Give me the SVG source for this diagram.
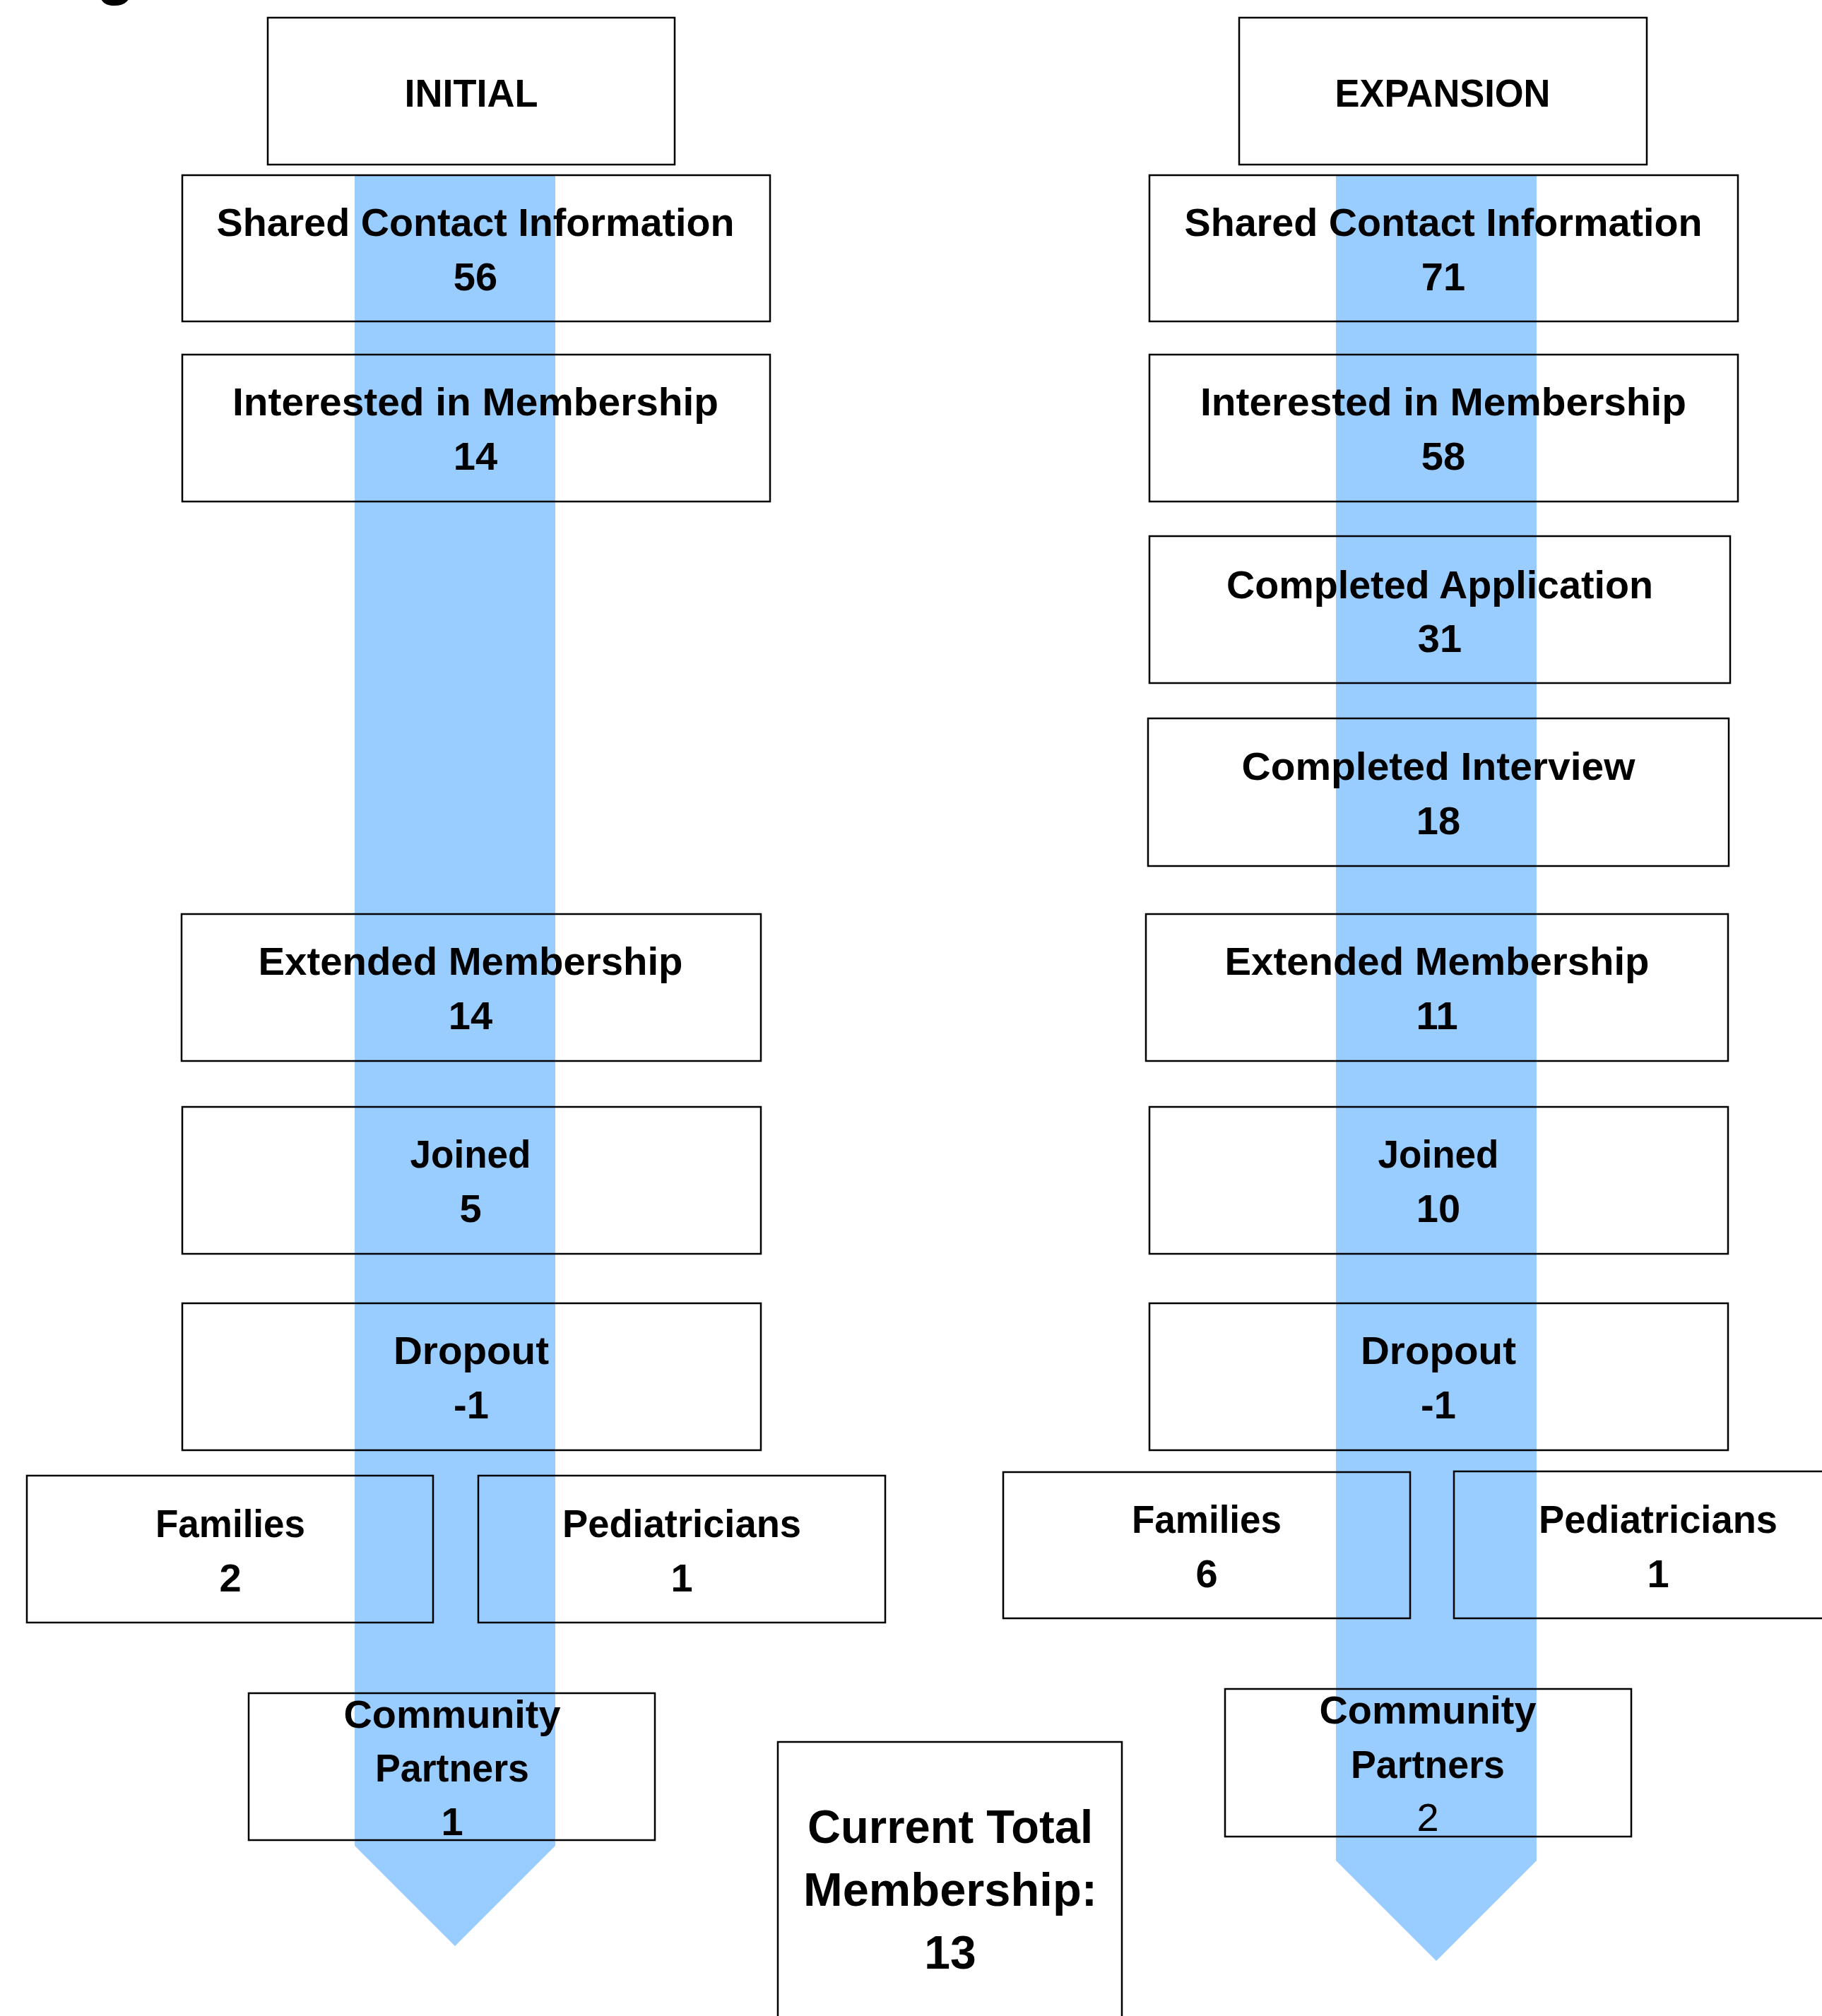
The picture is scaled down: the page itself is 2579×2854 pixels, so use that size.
<svg xmlns="http://www.w3.org/2000/svg" width="2579" height="2854" viewBox="0 0 2579 2854">
<style>
  .box{fill:none;stroke:#000;stroke-width:2.5}
  .t{font-family:"Liberation Sans",Arial,sans-serif;font-weight:bold;font-size:56px;fill:#000;text-anchor:middle}
  .big{font-size:66px}
  .reg{font-weight:normal}
  .flow{fill:#99CCFF}
</style>
<rect x="0" y="0" width="2579" height="2854" fill="#fff"/>
<text class="t" x="136" y="-11" style="text-anchor:start;font-size:90px">g</text>
<g id="connectors">
  <polygon class="flow" points="502,248 786,248 786,2613 644,2755 502,2613"/>
  <polygon class="flow" points="1891,248 2175,248 2175,2634 2033,2776 1891,2634"/>
</g>
<g id="initial">
  <rect class="box" x="379" y="25" width="576" height="208"/>
  <text class="t" x="667" y="151" textLength="189" lengthAdjust="spacingAndGlyphs">INITIAL</text>
</g>
<g id="init-shared">
  <rect class="box" x="258" y="248" width="832" height="207"/>
  <text class="t" x="673" y="334" textLength="733" lengthAdjust="spacingAndGlyphs">Shared Contact Information</text>
  <text class="t" x="673" y="411">56</text>
</g>
<g id="init-interested">
  <rect class="box" x="258" y="502" width="832" height="208"/>
  <text class="t" x="673" y="588" textLength="688" lengthAdjust="spacingAndGlyphs">Interested in Membership</text>
  <text class="t" x="673" y="665">14</text>
</g>
<g id="init-extended">
  <rect class="box" x="257" y="1294" width="820" height="208"/>
  <text class="t" x="666" y="1380" textLength="601" lengthAdjust="spacingAndGlyphs">Extended Membership</text>
  <text class="t" x="666" y="1457">14</text>
</g>
<g id="init-joined">
  <rect class="box" x="258" y="1567" width="819" height="208"/>
  <text class="t" x="666" y="1653" textLength="171" lengthAdjust="spacingAndGlyphs">Joined</text>
  <text class="t" x="666" y="1730">5</text>
</g>
<g id="init-dropout">
  <rect class="box" x="258" y="1845" width="819" height="208"/>
  <text class="t" x="667" y="1931" textLength="220" lengthAdjust="spacingAndGlyphs">Dropout</text>
  <text class="t" x="667" y="2008">-1</text>
</g>
<g id="init-families">
  <rect class="box" x="38" y="2089" width="575" height="208"/>
  <text class="t" x="326" y="2176" textLength="212" lengthAdjust="spacingAndGlyphs">Families</text>
  <text class="t" x="326" y="2253">2</text>
</g>
<g id="init-pediatricians">
  <rect class="box" x="677" y="2089" width="576" height="208"/>
  <text class="t" x="965" y="2176" textLength="338" lengthAdjust="spacingAndGlyphs">Pediatricians</text>
  <text class="t" x="965" y="2253">1</text>
</g>
<g id="init-community">
  <rect class="box" x="352" y="2397" width="575" height="208"/>
  <text class="t" x="640" y="2446" textLength="307" lengthAdjust="spacingAndGlyphs">Community</text>
  <text class="t" x="640" y="2522" textLength="218" lengthAdjust="spacingAndGlyphs">Partners</text>
  <text class="t" x="640" y="2598">1</text>
</g>
<g id="expansion">
  <rect class="box" x="1754" y="25" width="577" height="208"/>
  <text class="t" x="2042" y="151" textLength="305" lengthAdjust="spacingAndGlyphs">EXPANSION</text>
</g>
<g id="exp-shared">
  <rect class="box" x="1627" y="248" width="833" height="207"/>
  <text class="t" x="2043" y="334" textLength="733" lengthAdjust="spacingAndGlyphs">Shared Contact Information</text>
  <text class="t" x="2043" y="411">71</text>
</g>
<g id="exp-interested">
  <rect class="box" x="1627" y="502" width="833" height="208"/>
  <text class="t" x="2043" y="588" textLength="688" lengthAdjust="spacingAndGlyphs">Interested in Membership</text>
  <text class="t" x="2043" y="665">58</text>
</g>
<g id="exp-application">
  <rect class="box" x="1627" y="759" width="822" height="208"/>
  <text class="t" x="2038" y="847" textLength="604" lengthAdjust="spacingAndGlyphs">Completed Application</text>
  <text class="t" x="2038" y="923">31</text>
</g>
<g id="exp-interview">
  <rect class="box" x="1625" y="1017" width="822" height="209"/>
  <text class="t" x="2036" y="1104" textLength="557" lengthAdjust="spacingAndGlyphs">Completed Interview</text>
  <text class="t" x="2036" y="1181">18</text>
</g>
<g id="exp-extended">
  <rect class="box" x="1622" y="1294" width="824" height="208"/>
  <text class="t" x="2034" y="1380" textLength="601" lengthAdjust="spacingAndGlyphs">Extended Membership</text>
  <text class="t" x="2034" y="1457">11</text>
</g>
<g id="exp-joined">
  <rect class="box" x="1627" y="1567" width="819" height="208"/>
  <text class="t" x="2036" y="1653" textLength="171" lengthAdjust="spacingAndGlyphs">Joined</text>
  <text class="t" x="2036" y="1730">10</text>
</g>
<g id="exp-dropout">
  <rect class="box" x="1627" y="1845" width="819" height="208"/>
  <text class="t" x="2036" y="1931" textLength="220" lengthAdjust="spacingAndGlyphs">Dropout</text>
  <text class="t" x="2036" y="2008">-1</text>
</g>
<g id="exp-families">
  <rect class="box" x="1420" y="2084" width="576" height="207"/>
  <text class="t" x="1708" y="2170" textLength="212" lengthAdjust="spacingAndGlyphs">Families</text>
  <text class="t" x="1708" y="2247">6</text>
</g>
<g id="exp-pediatricians">
  <rect class="box" x="2058" y="2083" width="576" height="208"/>
  <text class="t" x="2347" y="2170" textLength="338" lengthAdjust="spacingAndGlyphs">Pediatricians</text>
  <text class="t" x="2347" y="2247">1</text>
</g>
<g id="exp-community">
  <rect class="box" x="1734" y="2391" width="575" height="209"/>
  <text class="t" x="2021" y="2440" textLength="307" lengthAdjust="spacingAndGlyphs">Community</text>
  <text class="t" x="2021" y="2517" textLength="218" lengthAdjust="spacingAndGlyphs">Partners</text>
  <text class="t reg" x="2021" y="2592">2</text>
</g>
<g id="total">
  <rect class="box" x="1101" y="2466" width="487" height="420"/>
  <text class="t big" x="1345" y="2609" textLength="404" lengthAdjust="spacingAndGlyphs">Current Total</text>
  <text class="t big" x="1345" y="2698" textLength="416" lengthAdjust="spacingAndGlyphs">Membership:</text>
  <text class="t big" x="1345" y="2787">13</text>
</g>
</svg>
